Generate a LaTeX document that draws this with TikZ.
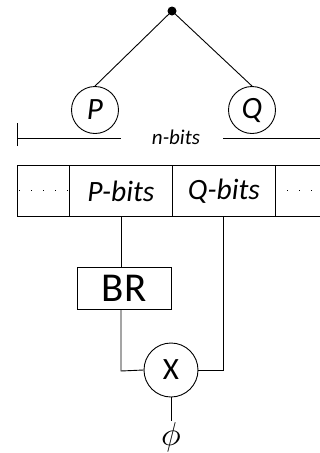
\documentclass[tikz,border=0pt]{standalone}
\usepackage{graphicx}
\usepackage{fontspec}
\setmainfont{Carlito}
\begin{document}
\begin{tikzpicture}[x=1pt,y=-1pt,line width=0.9pt,
  circ/.style={draw,circle,minimum size=47pt,inner sep=0pt},
  cell/.style={draw,rectangle,minimum height=51pt,inner sep=0pt,anchor=north west},
  dotline/.style={line width=1pt,dash pattern=on 1pt off 11pt}]
\useasboundingbox (0,0) rectangle (320,453);
\clip (0,0) rectangle (320,453);
\fill (172,11) circle (4.5pt);
\coordinate (top) at (172,11);
\node[circ] (P) at (95,110) {\fontsize{31}{31}\selectfont\itshape P};
\node[circ] (Q) at (252,110) {\fontsize{31}{31}\selectfont\itshape Q};
\draw (top) -- (P.north);
\draw (top) -- (Q.north);
\node (nb) at (176,137) {\fontsize{21}{21}\selectfont\itshape n-bits};
\coordinate (nl) at (17,138);
\coordinate (nlm) at (121,138);
\coordinate (nrm) at (223,138);
\coordinate (nr) at (330,138);
\draw (nl) -- (nlm);
\draw (nrm) -- (nr);
\draw ([yshift=-8pt]nl) -- ([yshift=15pt]nl);
\node[cell,minimum width=52pt] (c0) at (17,165) {};
\node[cell,minimum width=103pt] (c1) at (69,165) {\fontsize{29.5}{29.5}\selectfont\itshape P-bits};
\node[cell,minimum width=103pt] (c2) at (172,165) {\fontsize{29.5}{29.5}\selectfont\itshape Q-bits};
\node[cell,minimum width=60pt] (c3) at (275,165) {};
\draw[dotline] ([xshift=2pt]c0.west) -- (c0.east);
\draw[dotline] ([xshift=12pt]c3.west) -- (c3.east);
\node[draw,rectangle,minimum width=94pt,minimum height=42pt,inner sep=0pt] (BR) at (124,288) {\fontsize{41}{41}\selectfont BR};
\node[draw,circle,minimum size=54pt,inner sep=0pt] (X) at (171,370) {\fontsize{31}{31}\selectfont X};
\node[inner sep=0pt] (phi) at (171,437.5) {\scalebox{3.3}{$\phi$}};
\coordinate (pb) at (121,216);
\coordinate (qb) at (223,216);
\draw (pb) -- (pb |- BR.north);
\draw (pb |- BR.south) -- (121,371) -- (X.west);
\draw (qb) -- (223,370) -- (X.east);
\draw (X.south) -- (171,421);
\end{tikzpicture}
\end{document}
